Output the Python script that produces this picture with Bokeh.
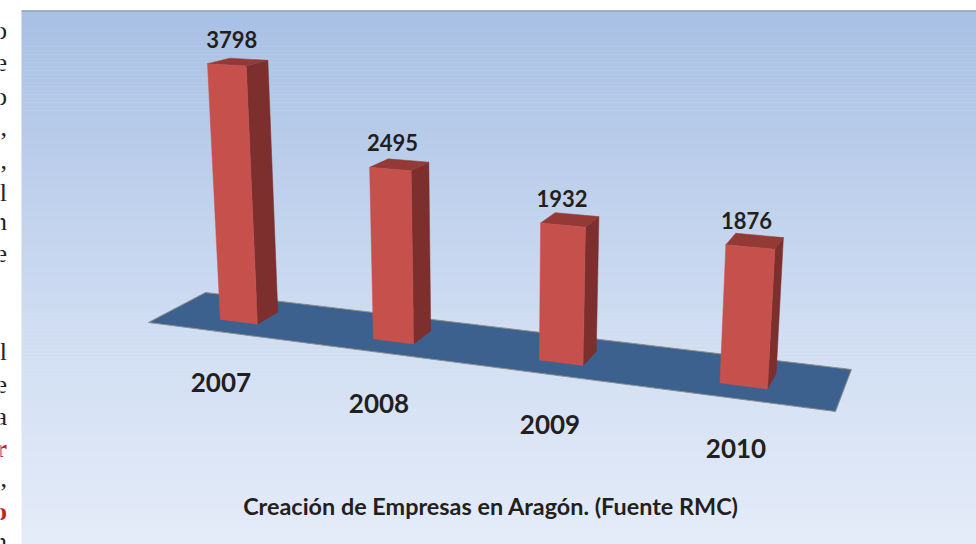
import numpy as np
from bokeh.plotting import figure
from bokeh.models import Range1d
from bokeh.core.properties import value
from bokeh.embed import file_html
from bokeh.resources import INLINE

years = ["2007", "2008", "2009", "2010"]
empresas = [3798, 2495, 1932, 1876]
title_text = "Creación de Empresas en Aragón. (Fuente RMC)"

# Camera of the 3-D chart: world (category, thousands, depth, 1) -> pixels
CAMERA = np.array([
    [139.2805212, -5.8708101, 27.3545044, 238.3011697],
    [6.3709971, -68.3937636, -3.9153786, 321.2509262],
    [-0.0390228, -0.0119579, 0.0256081, 1.0],
])
BAR_W = 0.25
FLOOR = [(-0.489, -0.823), (-0.495, 1.795), (3.492, 1.855), (3.499, -0.785)]
YEAR_ANCHOR = [(0.442, -3.813), (1.334, -3.672), (2.228, -3.499), (3.136, -3.427)]
VALUE_OFFSET = [(-17, -20), (-16, -18), (-15, -16), (-13, -15)]

LEFT_DARK = [("o", 30), ("e", 62), ("o", 96), (",", 127), (",", 160), ("l", 192), ("n", 221), ("e", 253),
             ("l", 351), ("e", 384), ("a", 416), (",", 478), ("n", 541)]
LEFT_RED = [("r", 448), ("o", 511)]

FONT = "Lato"
INK = "#231f20"


def project(x, y, z):
    q = CAMERA @ np.array([x, y, z, 1.0])
    return q[0] / q[2], q[1] / q[2]


p = figure(width=976, height=544, output_backend="svg", toolbar_location=None,
           x_range=Range1d(0, 976), y_range=Range1d(544, 0), min_border=0)
p.axis.visible = False
p.grid.visible = False
p.outline_line_color = None
p.background_fill_color = "white"
p.border_fill_color = "white"

# gradient panel
n = 134
edges = np.linspace(10, 544, n + 1)
c0, c1, c2 = np.array([168, 192, 228]), np.array([205, 219, 241]), np.array([229, 236, 249])
cols = []
for t in (edges[:-1] + edges[1:]) / 2:
    f = (t - 10) / 534
    c = c0 + (c1 - c0) * f / 0.55 if f < 0.55 else c1 + (c2 - c1) * (f - 0.55) / 0.45
    cols.append("#%02x%02x%02x" % tuple(int(round(v)) for v in c))
p.quad(left=21, right=976, top=edges[:-1], bottom=edges[1:] + 0.5, fill_color=cols, line_color=None)
p.segment(x0=[21], y0=[10.5], x1=[976], y1=[10.5], line_color="#9aa3b3", line_width=1.5)

# floor
fl = [project(x, 0, z) for x, z in FLOOR]
p.patch([a for a, _ in fl], [b for _, b in fl], fill_color="#3c618f", line_color="#8c8f8c", line_width=1)


def face(pts):
    return [a for a, _ in pts], [b for _, b in pts]


fx, fy, sx, sy, tx, ty = [], [], [], [], [], []
for i, v in enumerate(empresas):
    h = v / 1000
    l, r = i - BAR_W / 2, i + BAR_W / 2
    a, b = face([project(l, h, 0), project(r, h, 0), project(r, 0, 0), project(l, 0, 0)])
    fx.append(a); fy.append(b)
    a, b = face([project(r, h, 0), project(r, h, 1), project(r, 0, 1), project(r, 0, 0)])
    sx.append(a); sy.append(b)
    a, b = face([project(l, h, 0), project(r, h, 0), project(r, h, 1), project(l, h, 1)])
    tx.append(a); ty.append(b)
p.patches(sx, sy, fill_color="#7c2f2d", line_color="#7c2f2d", line_width=0.5)
p.patches(tx, ty, fill_color="#933a37", line_color="#933a37", line_width=0.5)
p.patches(fx, fy, fill_color="#c6514c", line_color="#c6514c", line_width=0.5)

# value labels
tops = [project(i, v / 1000, 1) for i, v in enumerate(empresas)]
p.text(x=[t[0] for t in tops], y=[t[1] for t in tops], text=[str(v) for v in empresas],
       x_offset=[o[0] for o in VALUE_OFFSET], y_offset=[o[1] for o in VALUE_OFFSET],
       text_font=value(FONT), text_font_style="bold", text_font_size="22px",
       text_color=INK, text_align="center", text_baseline="middle")

# category labels
ya = [project(x, 0, z) for x, z in YEAR_ANCHOR]
p.text(x=[t[0] for t in ya], y=[t[1] for t in ya], text=years, x_offset=-0.5, y_offset=-0.5,
       text_font=value(FONT), text_font_style="bold", text_font_size="26px",
       text_color=INK, text_align="center", text_baseline="middle")

p.text(x=[490.5], y=[505.5], text=[title_text], text_font=value(FONT), text_font_style="bold",
       text_font_size="23.4px", text_color=INK, text_align="center", text_baseline="middle")

# cropped letters of the running text to the left of the picture
p.text(x=[6.5] * len(LEFT_DARK), y=[t[1] for t in LEFT_DARK], text=[t[0] for t in LEFT_DARK],
       text_font=value("Liberation Serif"), text_font_size="26px", text_color="#222222",
       text_align="right", text_baseline="alphabetic")
p.text(x=[6.5] * len(LEFT_RED), y=[t[1] for t in LEFT_RED], text=[t[0] for t in LEFT_RED],
       text_font=value("Liberation Serif"), text_font_style="bold", text_font_size="26px",
       text_color="#c4202c", text_align="right", text_baseline="alphabetic")

open("out.html", "w").write(file_html(p, INLINE))
